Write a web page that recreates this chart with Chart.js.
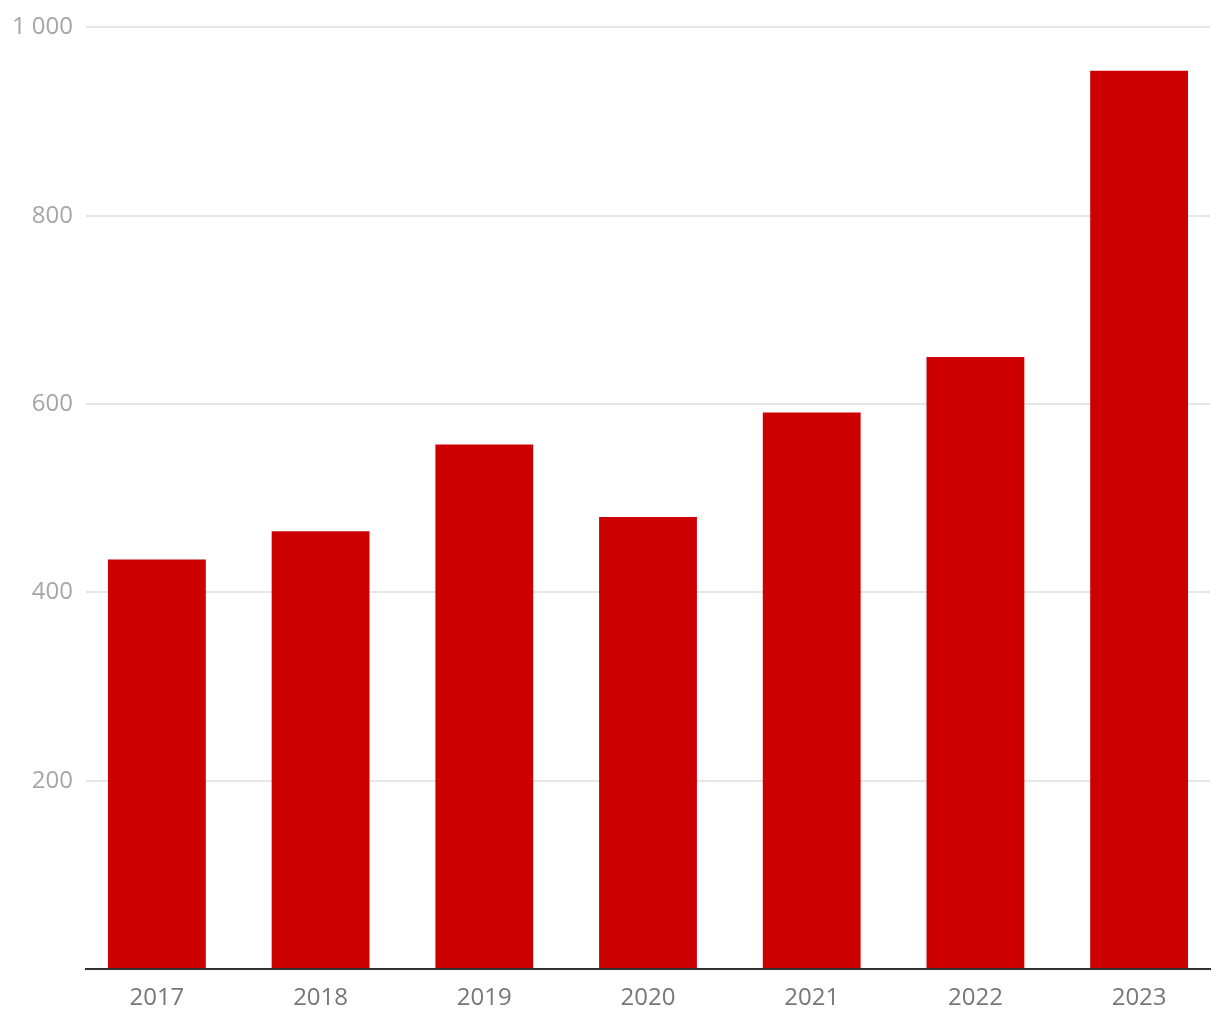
<!DOCTYPE html>
<html>
<head>
<meta charset="utf-8">
<script src="https://cdn.jsdelivr.net/npm/chart.js@4/dist/chart.umd.min.js"></script>
<style>
  html, body { margin: 0; padding: 0; background: #fff; }
  #wrap { width: 1220px; height: 1020px; }
</style>
</head>
<body>
<div id="wrap"><canvas id="myChart" width="1220" height="1020"></canvas></div>
<script>
// data
let years = [2017, 2018, 2019, 2020, 2021, 2022, 2023];
let values = [435, 465, 557, 480, 591, 650, 954];
let yTicks = [200, 400, 600, 800, 1000];

function spaced(v) {
    return String(v).replace(/\B(?=(\d{3})+(?!\d))/g, ' ');
}

let ctx = document.getElementById('myChart').getContext('2d');
let chart = new Chart(ctx, {
    type: 'bar',
    data: {
        labels: years,
        datasets: [{
            data: values,
            backgroundColor: '#cc0000',
            borderWidth: 0,
            categoryPercentage: 1,
            barPercentage: 0.5976
        }]
    },
    options: {
        responsive: false,
        animation: false,
        layout: { padding: { top: 15, right: 10, left: 0, bottom: 0 } },
        plugins: { legend: { display: false }, tooltip: { enabled: false } },
        scales: {
            x: {
                type: 'linear',
                offset: false,
                min: years[0] - 0.433,
                max: years[years.length - 1] + 0.433,
                grid: { display: false },
                border: { display: true, color: '#333333', width: 2 },
                ticks: {
                    stepSize: 1,
                    includeBounds: false,
                    autoSkip: false,
                    maxRotation: 0,
                    color: '#777777',
                    padding: 7,
                    font: { family: 'Open Sans', size: 24 },
                    callback: function (v) { return years.indexOf(v) >= 0 ? String(v) : ''; }
                },
                afterFit: function (scale) { scale.height = 51; }
            },
            y: {
                min: 0,
                max: 1000,
                grid: { color: '#e6e6e6', lineWidth: 2, drawTicks: false },
                border: { display: false },
                ticks: {
                    stepSize: 200,
                    color: '#a6a6a6',
                    padding: 13,
                    font: { family: 'Open Sans', size: 24 },
                    callback: function (v) { return yTicks.indexOf(v) >= 0 ? spaced(v) : ''; }
                },
                afterFit: function (scale) { scale.width = 86; }
            }
        }
    }
});
</script>
</body>
</html>
